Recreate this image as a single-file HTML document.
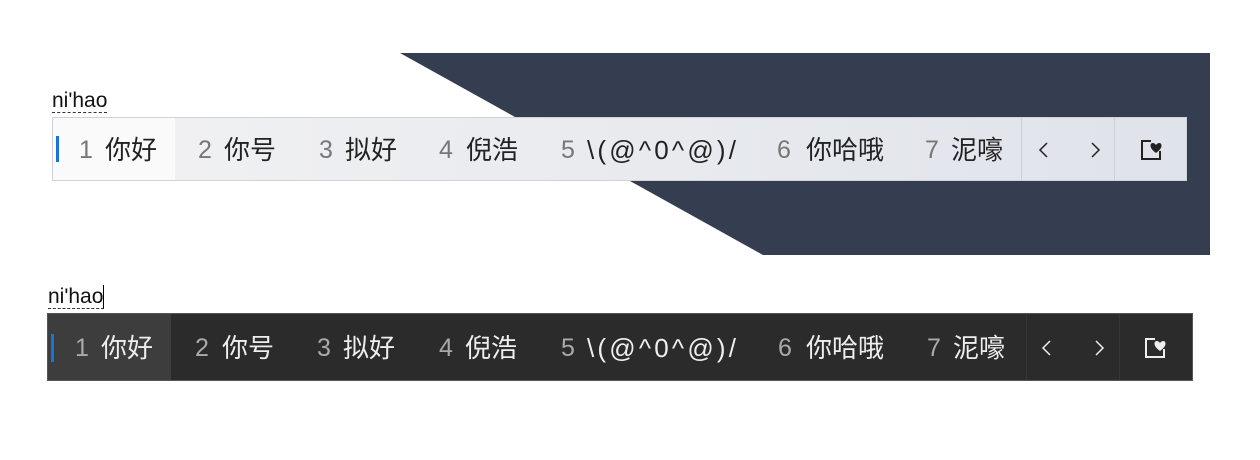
<!DOCTYPE html>
<html><head><meta charset="utf-8"><style>
body{margin:0;width:1260px;height:460px;background:#fff;position:relative;overflow:hidden;font-family:"Liberation Sans","Noto Sans CJK SC",sans-serif}
.a{position:absolute;white-space:nowrap}
.bar{position:absolute}
.n{font-size:25px;color:#777}
.c{font-size:26px;color:#222}
.d.n{color:#aaa}.d.c{color:#eee}
.pin{font-size:21px}
</style></head><body>
<svg class="a" style="left:0;top:0" width="1260" height="460"><polygon points="400,53 1210,53 1210,255 763,255" fill="#343e50"/></svg>
<div class="a pin" style="left:52px;top:89px;color:#111;border-bottom:1px dashed #333;line-height:23px">ni'hao</div>
<div class="bar" style="left:52px;top:117px;width:1133px;height:62px;border:1px solid #cfd2d6;background:linear-gradient(90deg,#f2f2f3,#dfe3ea)"></div>
<div class="bar" style="left:53px;top:118px;width:122px;height:62px;background:#fafafa"></div>
<div class="bar" style="left:56px;top:136px;width:3px;height:26px;background:#1a73d8"></div>
<div class="bar" style="left:1021px;top:118px;width:1px;height:62px;background:#cdd0d6"></div>
<div class="bar" style="left:1114px;top:118px;width:1px;height:62px;background:#cdd0d6"></div>
<div class="a pin" style="left:48px;top:285px;color:#111;border-bottom:1px dashed #333;line-height:23px;border-right:1px solid #000">ni'hao</div>
<div class="bar" style="left:47px;top:313px;width:1144px;height:66px;border:1px solid #555;background:#2b2b2b"></div>
<div class="bar" style="left:48px;top:314px;width:123px;height:66px;background:#3d3d3d"></div>
<div class="bar" style="left:51px;top:334px;width:3px;height:28px;background:#1a73d8"></div>
<div class="bar" style="left:1026px;top:314px;width:1px;height:66px;background:#363636"></div>
<div class="bar" style="left:1119px;top:314px;width:1px;height:66px;background:#363636"></div>
<script>
function row(y,ns,ts,ch,cls,icol){
var items=[["1","你好"],["2","你号"],["3","拟好"],["4","倪浩"],["5","\\(@^0^@)/"],["6","你哈哦"],["7","泥嚎"]];
var h="";
items.forEach(function(it,i){
h+='<div class="a n '+cls+'" style="left:'+ns[i]+'px;top:'+(y-18)+'px;line-height:36px">'+it[0]+'</div>';
var ls=i==4?'letter-spacing:3.2px;':'';
h+='<div class="a c '+cls+'" style="'+ls+'left:'+ts[i]+'px;top:'+(y-18)+'px;line-height:36px">'+it[1]+'</div>';
});
h+='<svg class="a" style="left:'+ch[0]+'px;top:'+(y-8)+'px" width="12" height="18"><polyline points="9,1 2,8 9,15" fill="none" stroke="'+icol+'" stroke-width="1.5"/></svg>';
h+='<svg class="a" style="left:'+ch[1]+'px;top:'+(y-8)+'px" width="12" height="18"><polyline points="3,1 10,8 3,15" fill="none" stroke="'+icol+'" stroke-width="1.5"/></svg>';
h+='<svg class="a" style="left:'+ch[2]+'px;top:'+(y-12)+'px" width="24" height="24"><path d="M11 3H2V21H20V13" fill="none" stroke="'+icol+'" stroke-width="2"/><path d="M16 15C13 12.5 10.5 10.5 10.5 7.5C10.5 4.5 14 4 16 7C18 4 21.5 4.5 21.5 7.5C21.5 10.5 19 12.5 16 15Z" fill="'+icol+'"/></svg>';
document.body.insertAdjacentHTML('beforeend','<div>'+h+'</div>');
}
row(150,[79,198,319,439,561,777,925],[105,224,345,466,587,806,951],[1038,1089,1140],"l","#222");
row(348,[75,195,317,439,561,778,927],[101,222,343,465,587,806,953],[1041,1093,1144],"d","#eee");
</script>
</body></html>
